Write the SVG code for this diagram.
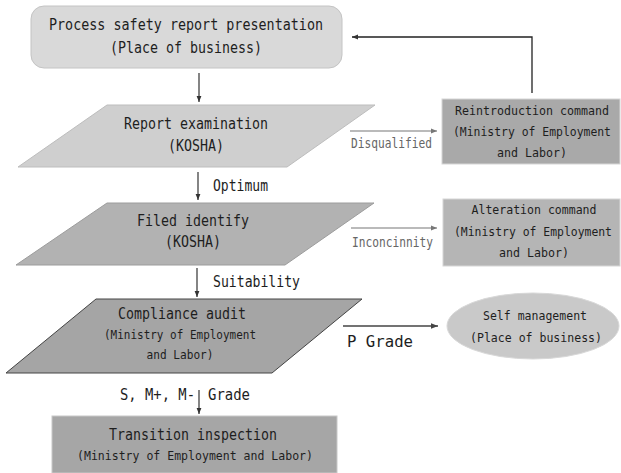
<svg xmlns="http://www.w3.org/2000/svg" width="621" height="473" viewBox="0 0 621 473">
<defs>
<marker id="ah" viewBox="0 0 10 10" refX="10" refY="5" markerWidth="6" markerHeight="8" markerUnits="userSpaceOnUse" orient="auto"><path d="M0,1 L10,5 L0,9 z" fill="#333"/></marker>
<marker id="ahg" viewBox="0 0 10 10" refX="10" refY="5" markerWidth="8" markerHeight="6" markerUnits="userSpaceOnUse" orient="auto"><path d="M0,1 L10,5 L0,9 z" fill="#777"/></marker>
<marker id="ahd" viewBox="0 0 10 10" refX="10" refY="5" markerWidth="9" markerHeight="7" markerUnits="userSpaceOnUse" orient="auto"><path d="M0,1 L10,5 L0,9 z" fill="#444"/></marker>
</defs>
<style>
text{font-family:"DejaVu Sans Mono","Liberation Mono",monospace;fill:#1e1e1e;text-anchor:middle}
.big{font-size:15.5px}
.sm{font-size:12.5px}
.xs{font-size:11.8px}
.lbl{font-size:13.5px;fill:#666;text-anchor:start}
.lb2{font-size:15.5px;text-anchor:start}
.c{fill:none;stroke:#333;stroke-width:1.2}
.cg{fill:none;stroke:#777;stroke-width:1.2}
</style>
<rect width="621" height="473" fill="#fff"/>
<g id="n-presentation">
<rect x="31" y="6" width="311" height="62" rx="13" fill="#d9d9d9" stroke="#c4c4c4"/>
<text class="big" x="186" y="30" textLength="274" lengthAdjust="spacingAndGlyphs">Process safety report presentation</text>
<text class="big" x="186" y="53" textLength="152" lengthAdjust="spacingAndGlyphs">(Place of business)</text>
</g>
<g id="n-exam">
<polygon points="107,105 375,105 287,167 18,167" fill="#cfcfcf" stroke="#bdbdbd"/>
<text class="big" x="196" y="129" textLength="144" lengthAdjust="spacingAndGlyphs">Report examination</text>
<text class="big" x="196" y="151" textLength="56" lengthAdjust="spacingAndGlyphs">(KOSHA)</text>
</g>
<g id="n-filed">
<polygon points="107,203 374,203 285,265 16,265" fill="#b2b2b2" stroke="#9c9c9c"/>
<text class="big" x="193" y="226" textLength="112" lengthAdjust="spacingAndGlyphs">Filed identify</text>
<text class="big" x="193" y="247" textLength="56" lengthAdjust="spacingAndGlyphs">(KOSHA)</text>
</g>
<g id="n-compliance">
<polygon points="96,299 362,299 272,373 6,373" fill="#a5a5a5" stroke="#444"/>
<text class="big" x="182" y="319" textLength="128" lengthAdjust="spacingAndGlyphs">Compliance audit</text>
<text class="sm" x="180" y="339" textLength="152" lengthAdjust="spacingAndGlyphs">(Ministry of Employment</text>
<text class="sm" x="180" y="359" textLength="67" lengthAdjust="spacingAndGlyphs">and Labor)</text>
</g>
<g id="n-reintro">
<rect x="442" y="99" width="178" height="65" fill="#a9a9a9" stroke="#d6d6d6"/>
<text class="sm" x="532" y="115" textLength="154" lengthAdjust="spacingAndGlyphs">Reintroduction command</text>
<text class="xs" x="532" y="136" textLength="158" lengthAdjust="spacingAndGlyphs">(Ministry of Employment</text>
<text class="sm" x="532" y="157" textLength="70" lengthAdjust="spacingAndGlyphs">and Labor)</text>
</g>
<g id="n-alter">
<rect x="443" y="199" width="177" height="67" fill="#b5b5b5" stroke="#d6d6d6"/>
<text class="sm" x="534" y="214" textLength="125" lengthAdjust="spacingAndGlyphs">Alteration command</text>
<text class="xs" x="533" y="236" textLength="158" lengthAdjust="spacingAndGlyphs">(Ministry of Employment</text>
<text class="sm" x="534" y="257" textLength="70" lengthAdjust="spacingAndGlyphs">and Labor)</text>
</g>
<g id="n-self">
<ellipse cx="533" cy="326" rx="86" ry="33" fill="#c9c9c9" stroke="#d8d8d8"/>
<text class="sm" x="535" y="320" textLength="104" lengthAdjust="spacingAndGlyphs">Self management</text>
<text class="sm" x="536" y="342" textLength="132" lengthAdjust="spacingAndGlyphs">(Place of business)</text>
</g>
<g id="n-transition">
<rect x="52" y="416" width="285" height="57" fill="#a6a6a6" stroke="#c8c8c8"/>
<text class="big" x="193" y="440" textLength="168" lengthAdjust="spacingAndGlyphs">Transition inspection</text>
<text class="sm" x="195" y="460" textLength="236" lengthAdjust="spacingAndGlyphs">(Ministry of Employment and Labor)</text>
</g>
<g id="connectors">
<line class="c" x1="199" y1="73" x2="199" y2="102" marker-end="url(#ah)"/>
<line class="c" x1="198" y1="172" x2="198" y2="200" marker-end="url(#ah)"/>
<line class="c" x1="197" y1="268" x2="197" y2="297" marker-end="url(#ah)"/>
<line class="c" x1="199" y1="390" x2="199" y2="414" marker-end="url(#ah)"/>
<polyline fill="none" stroke="#222" stroke-width="1.3" points="532,93 532,37 352,37" marker-end="url(#ah)"/>
<line class="cg" x1="350" y1="131" x2="437" y2="131" marker-end="url(#ahg)"/>
<line class="cg" x1="351" y1="228" x2="437" y2="228" marker-end="url(#ahg)"/>
<line fill="none" stroke="#444" stroke-width="1.3" x1="343" y1="326" x2="438" y2="326" marker-end="url(#ahd)"/>
<text class="lbl" x="351" y="148" textLength="81" lengthAdjust="spacingAndGlyphs">Disqualified</text>
<text class="lbl" x="352" y="247" textLength="81" lengthAdjust="spacingAndGlyphs">Inconcinnity</text>
<text class="lb2" x="213" y="191" textLength="55" lengthAdjust="spacingAndGlyphs">Optimum</text>
<text class="lb2" x="213" y="287" textLength="87" lengthAdjust="spacingAndGlyphs">Suitability</text>
<text class="lb2" x="347" y="347" textLength="66" lengthAdjust="spacingAndGlyphs">P Grade</text>
<text class="lb2" x="120" y="400" textLength="75" lengthAdjust="spacingAndGlyphs">S, M+, M-</text>
<text class="lb2" x="208" y="400" textLength="42" lengthAdjust="spacingAndGlyphs">Grade</text>
</g>
</svg>
